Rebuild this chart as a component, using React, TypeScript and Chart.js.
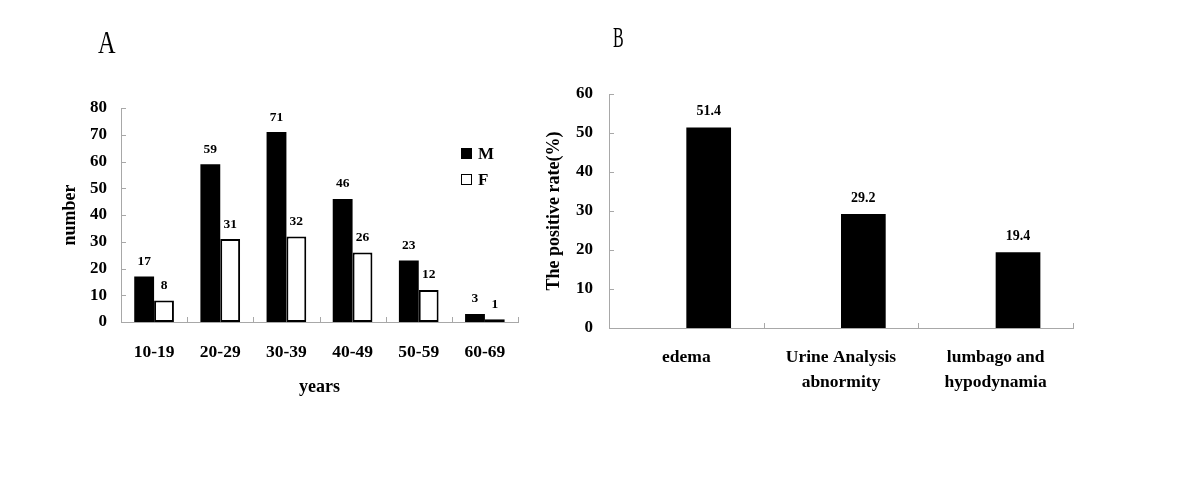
import React, { useEffect, useRef } from "react";
import { Chart, registerables } from "chart.js";

Chart.register(...registerables);

// ---------- data ----------
const ageGroups = ["10-19", "20-29", "30-39", "40-49", "50-59", "60-69"];
const maleCounts = [17, 59, 71, 46, 23, 3];
const femaleCounts = [8, 31, 32, 26, 12, 1];
const seriesNames = ["M", "F"];

const symptoms: (string | string[])[] = [
  "edema",
  ["Urine Analysis", "abnormity"],
  ["lumbago and", "hypodynamia"],
];
const positiveRates = [51.4, 29.2, 19.4];
const emptySlot = [null, null, null];

const panelLetters = ["A", "B"];
const axisTitlesA = { x: "years", y: "number" };
const axisTitlesB = { y: "The positive rate(%)" };

// ---------- styling ----------
const FONT = "'Liberation Serif', 'Times New Roman', Times, serif";
const AXIS_COLOR = "#a8a8a8";
Chart.defaults.font.family = FONT;
Chart.defaults.color = "#000";

const innerTicksPlugin = {
  id: "innerTicks",
  afterDraw(chart: any) {
    const { ctx, chartArea, scales } = chart;
    const x = scales.x;
    const y = scales.y;
    ctx.save();
    ctx.strokeStyle = AXIS_COLOR;
    ctx.lineWidth = 1;
    ctx.beginPath();
    y.ticks.forEach((_: any, i: number) => {
      const py = Math.round(y.getPixelForTick(i)) + 0.5;
      ctx.moveTo(chartArea.left, py);
      ctx.lineTo(chartArea.left + 5, py);
    });
    for (let i = 0; i <= x.ticks.length; i++) {
      const px = Math.round(x.getPixelForValue(i - 0.5)) + 0.5;
      ctx.moveTo(px, chartArea.bottom);
      ctx.lineTo(px, chartArea.bottom - 5);
    }
    ctx.stroke();
    ctx.restore();
  },
};

const valueLabelsPlugin = {
  id: "valueLabels",
  afterDatasetsDraw(chart: any, _args: any, opts: any) {
    const { ctx } = chart;
    ctx.save();
    ctx.font = `bold ${opts.size}px ${FONT}`;
    ctx.fillStyle = "#000";
    ctx.textAlign = "center";
    ctx.textBaseline = "middle";
    chart.data.datasets.forEach((ds: any, di: number) => {
      const meta = chart.getDatasetMeta(di);
      meta.data.forEach((bar: any, i: number) => {
        const v = ds.data[i];
        if (v == null) return;
        ctx.fillText(String(v), bar.x, bar.y - opts.offset);
      });
    });
    ctx.restore();
  },
};

function ChartA() {
  const ref = useRef<HTMLCanvasElement>(null);
  useEffect(() => {
    if (!ref.current) return;
    const chart = new Chart(ref.current, {
      type: "bar",
      data: {
        labels: ageGroups,
        datasets: [
          {
            label: seriesNames[0],
            data: maleCounts,
            backgroundColor: "#000",
            borderWidth: 0,
          },
          {
            label: seriesNames[1],
            data: femaleCounts,
            backgroundColor: "#fff",
            borderColor: "#000",
            borderWidth: 2,
            borderSkipped: false,
          },
        ],
      },
      options: {
        responsive: false,
        animation: false,
        events: [],
        datasets: { bar: { categoryPercentage: 0.6, barPercentage: 1 } },
        layout: { padding: { top: 108, right: 22, bottom: 0, left: 0 } },
        plugins: {
          legend: { display: false },
          tooltip: { enabled: false },
          valueLabels: { size: 13.5, offset: 15 },
        } as any,
        scales: {
          x: {
            grid: { display: false, drawTicks: false },
            border: { display: true, color: AXIS_COLOR, width: 1 },
            ticks: {
              font: { size: 17.5, weight: "bold" },
              padding: 19.5,
              maxRotation: 0,
              autoSkip: false,
              color: "#000",
            },
            title: {
              display: true,
              text: axisTitlesA.x,
              font: { size: 18, weight: "bold" },
              padding: { top: 0, bottom: 106 },
              color: "#000",
            },
            afterFit: (s: any) => {
              s.height = 182;
            },
          },
          y: {
            min: 0,
            max: 80,
            grid: { display: false, drawTicks: false },
            border: { display: true, color: AXIS_COLOR, width: 1 },
            ticks: {
              stepSize: 10,
              font: { size: 17, weight: "bold" },
              padding: 14,
              color: "#000",
            },
            title: {
              display: true,
              text: axisTitlesA.y,
              font: { size: 18, weight: "bold" },
              padding: { top: 60, bottom: 0 },
              color: "#000",
            },
            afterFit: (s: any) => {
              s.width = 121;
            },
          },
        },
      } as any,
      plugins: [innerTicksPlugin, valueLabelsPlugin],
    });
    return () => chart.destroy();
  }, []);
  return (
    <canvas
      ref={ref}
      width={540}
      height={504}
      style={{ position: "absolute", left: 0, top: 0, display: "block" }}
    />
  );
}

function ChartB() {
  const ref = useRef<HTMLCanvasElement>(null);
  useEffect(() => {
    if (!ref.current) return;
    const chart = new Chart(ref.current, {
      type: "bar",
      data: {
        labels: symptoms as any,
        datasets: [
          { label: "", data: emptySlot as any, backgroundColor: "#fff", borderWidth: 0 },
          { label: "rate", data: positiveRates, backgroundColor: "#000", borderWidth: 0 },
        ],
      },
      options: {
        responsive: false,
        animation: false,
        events: [],
        datasets: { bar: { categoryPercentage: 0.578, barPercentage: 1 } },
        layout: { padding: { top: 94, right: 127, bottom: 0, left: 0 } },
        plugins: {
          legend: { display: false },
          tooltip: { enabled: false },
          valueLabels: { size: 14, offset: 16 },
        } as any,
        scales: {
          x: {
            grid: { display: false, drawTicks: false },
            border: { display: true, color: AXIS_COLOR, width: 1 },
            ticks: {
              font: { size: 17.5, weight: "bold", lineHeight: 25 / 17.5 },
              padding: 17,
              maxRotation: 0,
              autoSkip: false,
              color: "#000",
            },
            afterFit: (s: any) => {
              s.height = 176;
            },
          },
          y: {
            min: 0,
            max: 60,
            grid: { display: false, drawTicks: false },
            border: { display: true, color: AXIS_COLOR, width: 1 },
            ticks: {
              stepSize: 10,
              font: { size: 17, weight: "bold" },
              padding: 16,
              color: "#000",
            },
            title: {
              display: true,
              text: axisTitlesB.y,
              font: { size: 18, weight: "bold" },
              padding: { top: 4, bottom: 0 },
              color: "#000",
            },
            afterFit: (s: any) => {
              s.width = 69;
            },
          },
        },
      } as any,
      plugins: [innerTicksPlugin, valueLabelsPlugin],
    });
    return () => chart.destroy();
  }, []);
  return (
    <canvas
      ref={ref}
      width={660}
      height={504}
      style={{ position: "absolute", left: 540, top: 0, display: "block" }}
    />
  );
}

const letterStyle = (left: number, top: number, size: number, sx: number): React.CSSProperties => ({
  position: "absolute",
  left,
  top,
  fontFamily: FONT,
  fontSize: size,
  lineHeight: `${size}px`,
  fontWeight: "normal",
  color: "#000",
  transform: `scaleX(${sx})`,
  transformOrigin: "left top",
  whiteSpace: "nowrap",
});

const legendText = (top: number): React.CSSProperties => ({
  position: "absolute",
  left: 478,
  top,
  fontFamily: FONT,
  fontSize: 17,
  lineHeight: "17px",
  fontWeight: "bold",
  color: "#000",
});

export default function App() {
  return (
    <div
      style={{
        position: "absolute",
        left: 0,
        top: 0,
        width: 1200,
        height: 504,
        background: "#fff",
        overflow: "hidden",
      }}
    >
      <ChartA />
      <ChartB />
      <div style={letterStyle(98, 26, 32, 0.76)}>{panelLetters[0]}</div>
      <div style={letterStyle(613, 23, 29, 0.55)}>{panelLetters[1]}</div>
      {/* legend for chart A */}
      <div
        style={{
          position: "absolute",
          left: 461,
          top: 148,
          width: 11,
          height: 11,
          background: "#000",
        }}
      />
      <div style={legendText(145)}>{seriesNames[0]}</div>
      <div
        style={{
          position: "absolute",
          left: 461,
          top: 174,
          width: 11,
          height: 11,
          boxSizing: "border-box",
          background: "#fff",
          border: "1.5px solid #000",
        }}
      />
      <div style={legendText(171)}>{seriesNames[1]}</div>
    </div>
  );
}
